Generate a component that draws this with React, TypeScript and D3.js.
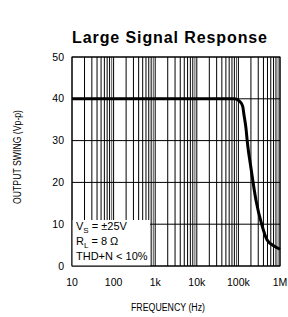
import * as d3 from "d3";

// frequency response
const freqs = [10, 1000, 10000, 80000, 110000, 127000, 136000, 152000, 165000, 200000, 264000, 362000, 490000, 720000, 1000000];
const swing = [40, 40, 40, 40, 39.3, 38.2, 36.2, 33, 29.4, 23.5, 15.8, 10, 6.2, 4.8, 4.0];

const xTicks = [10, 100, 1000, 10000, 100000, 1000000];
const xTickLabels = ["10", "100", "1k", "10k", "100k", "1M"];
const yTicks = [0, 10, 20, 30, 40, 50];

const W = 288;
const H = 317;
const left = 72;
const right = 280;
const top = 57;
const bottom = 266;

const font = "'Liberation Sans', Arial, sans-serif";

export default function App() {
  const x = d3.scaleLog().domain([10, 1e6]).range([left, right]);
  const y = d3.scaleLinear().domain([0, 50]).range([bottom, top]);

  // minor log grid 2..9 in every decade plus decades
  const vlines: number[] = [];
  for (let dec = 10; dec < 1e6; dec *= 10) {
    for (let k = 1; k < 10; k++) vlines.push(dec * k);
  }
  vlines.push(1e6);

  const line = d3
    .line<number>()
    .x((_, i) => x(freqs[i]))
    .y((d) => y(d))
    .curve(d3.curveMonotoneX);

  return (
    <svg
      width={W}
      height={H}
      style={{ position: "absolute", left: 0, top: 0, background: "#fff" }}
    >
      <text
        x={170}
        y={43}
        textAnchor="middle"
        fontFamily={font}
        fontWeight="bold"
        fontSize={16}
        letterSpacing={0.9}
      >
        Large Signal Response
      </text>

      {vlines.map((f, i) => (
        <line
          key={"v" + i}
          x1={x(f)}
          x2={x(f)}
          y1={top}
          y2={bottom}
          stroke={i % 9 === 8 ? "#555" : "#000"}
          strokeWidth={1}
        />
      ))}
      {yTicks.map((t) => (
        <line key={"h" + t} x1={left} x2={right} y1={y(t)} y2={y(t)} stroke="#000" strokeWidth={1} />
      ))}

      {/* conditions box */}
      <rect x={left} y={220} width={78} height={bottom - 220} fill="#fff" />
      <rect x={left} y={top} width={right - left} height={bottom - top} fill="none" stroke="#000" strokeWidth={1} />

      <g fontFamily={font} fontSize={11} fill="#000">
        <text x={76} y={230}>
          V<tspan fontSize={8} dy={2.5}>S</tspan>
          <tspan dy={-2.5}> = ±25V</tspan>
        </text>
        <text x={76} y={245}>
          R<tspan fontSize={8} dy={2.5}>L</tspan>
          <tspan dy={-2.5}> = 8 Ω</tspan>
        </text>
        <text x={76} y={260}>THD+N &lt; 10%</text>
      </g>

      <path d={line(swing) ?? ""} fill="none" stroke="#000" strokeWidth={3} />

      <g fontFamily={font} fontSize={10.5} fill="#000">
        {yTicks.map((t) => (
          <text key={"yl" + t} x={64} y={y(t)} dy="0.35em" textAnchor="end">
            {t}
          </text>
        ))}
        {xTicks.map((t, i) => (
          <text key={"xl" + t} x={x(t)} y={286} textAnchor="middle">
            {xTickLabels[i]}
          </text>
        ))}
      </g>

      <text
        x={131}
        y={311}
        fontFamily={font}
        fontSize={10}
        textLength={74}
        lengthAdjust="spacingAndGlyphs"
      >
        FREQUENCY (Hz)
      </text>
      <text
        transform="translate(21,204) rotate(-90)"
        fontFamily={font}
        fontSize={10}
        textLength={94}
        lengthAdjust="spacingAndGlyphs"
      >
        OUTPUT SWING (Vp-p)
      </text>
    </svg>
  );
}
